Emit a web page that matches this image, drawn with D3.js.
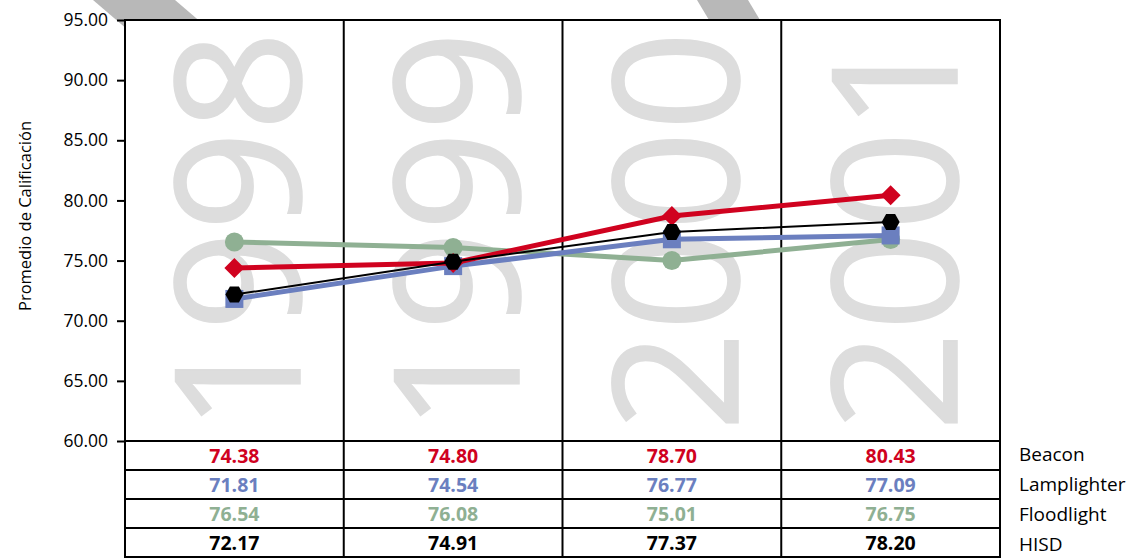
<!DOCTYPE html>
<html><head><meta charset="utf-8">
<script src="https://cdn.jsdelivr.net/npm/d3@7/dist/d3.min.js"></script>
<style>
html,body{margin:0;padding:0;background:#fff;}
svg{display:block;font-family:"Open Sans",sans-serif;}
</style></head>
<body>
<svg id="chart" width="1135" height="558"></svg>
<script>
// ---- data ----
const years = ["1998", "1999", "2000", "2001"];
const seriesNames = ["Beacon", "Lamplighter", "Floodlight", "HISD"];
const beacon = [74.38, 74.80, 78.70, 80.43];
const lamplighter = [71.81, 74.54, 76.77, 77.09];
const floodlight = [76.54, 76.08, 75.01, 76.75];
const hisd = [72.17, 74.91, 77.37, 78.20];
const yTicks = [60, 65, 70, 75, 80, 85, 90, 95];
const yTitle = "Promedio de Calificación";

(function () {
const colors = {Beacon: "#d0021f", Lamplighter: "#6b7fbf", Floodlight: "#8fb093", HISD: "#000000"};
const values = {Beacon: beacon, Lamplighter: lamplighter, Floodlight: floodlight, HISD: hisd};

const svg = d3.select("#chart");
const pLeft = 125, pRight = 1000, pTop = 20, plotBottom = 441, rowH = 29;
const tableBottom = plotBottom + rowH * seriesNames.length;

const x = d3.scaleBand().domain(years).range([pLeft, pRight]);
const y = d3.scaleLinear().domain([60, 95]).range([plotBottom, pTop]);
const rowY = d3.scaleBand().domain(seriesNames).range([plotBottom, tableBottom]);

// decorative gray bands at the top
svg.append("path").attr("d", "M93,0 L175,0 L210,30 L128,30 Z").attr("fill", "#b8b8b8");
svg.append("path").attr("d", "M697,0 L748,0 L760,20 L709,20 Z").attr("fill", "#b8b8b8");

// white plot background
svg.append("rect").attr("x", pLeft).attr("y", pTop).attr("width", pRight - pLeft)
  .attr("height", tableBottom - pTop).attr("fill", "#fff");

// big year watermarks
svg.append("g").selectAll("text").data(years).join("text")
  .attr("transform", d => `translate(${x(d) + x.bandwidth() / 2 + 66},231) rotate(-90)`)
  .attr("text-anchor", "middle")
  .attr("font-size", 175)
  .attr("fill", "#dddddd")
  .attr("stroke", "#dddddd").attr("stroke-width", 1.5)
  .text(d => d);

// y axis
const yAxis = d3.axisLeft(y).tickValues(yTicks).tickFormat(d3.format(".2f")).tickSize(8).tickPadding(9);
const ga = svg.append("g").attr("transform", `translate(${pLeft},0)`).call(yAxis);
ga.select(".domain").remove();
ga.selectAll(".tick line").attr("stroke", "#000").attr("stroke-width", 2);
ga.selectAll(".tick text").attr("font-size", 17.5).attr("fill", "#000")
  .attr("font-family", "Open Sans, sans-serif");

// y title
svg.append("text").attr("transform", `translate(31,216) rotate(-90)`)
  .attr("text-anchor", "middle").attr("font-size", 16.5).attr("fill", "#000").text(yTitle);

// frame: vertical lines through plot and table
const vlines = years.map(d => x(d)).concat([pRight]);
svg.append("g").selectAll("line").data(vlines).join("line")
  .attr("x1", d => d).attr("x2", d => d).attr("y1", pTop - 1).attr("y2", tableBottom)
  .attr("stroke", "#000").attr("stroke-width", 2);
// horizontal lines
const hlines = [pTop, plotBottom].concat(seriesNames.map(s => rowY(s) + rowY.bandwidth()));
svg.append("g").selectAll("line").data(hlines).join("line")
  .attr("x1", pLeft - 1).attr("x2", pRight + 1).attr("y1", d => d).attr("y2", d => d)
  .attr("stroke", "#000").attr("stroke-width", 2);

// series
const cx = d => x(d) + x.bandwidth() / 2;
const line = d3.line().x(d => cx(d.year)).y(d => y(d.v));
const widths = {Beacon: 5, Lamplighter: 5, Floodlight: 5, HISD: 2};
const drawOrder = ["Floodlight", "Lamplighter", "Beacon", "HISD"];

function markerPath(name) {
  if (name === "Beacon") { const r = 10; return `M0,${-r}L${r},0L0,${r}L${-r},0Z`; }
  if (name === "Lamplighter") { const r = 9; return `M${-r},${-r}H${r}V${r}H${-r}Z`; }
  if (name === "Floodlight") { return d3.symbol(d3.symbolCircle, Math.PI * 9.5 * 9.5)(); }
  const rx = 9, ry = 8;
  return `M${-rx},0L${-rx / 2},${-ry}L${rx / 2},${-ry}L${rx},0L${rx / 2},${ry}L${-rx / 2},${ry}Z`;
}

drawOrder.forEach(name => {
  const pts = years.map((yr, i) => ({year: yr, v: values[name][i]}));
  const g = svg.append("g");
  g.append("path").datum(pts).attr("d", line).attr("fill", "none")
    .attr("stroke", colors[name]).attr("stroke-width", widths[name]).attr("stroke-linejoin", "round");
  g.selectAll("path.m").data(pts).join("path").attr("class", "m")
    .attr("transform", d => `translate(${cx(d.year)},${y(d.v)})`)
    .attr("d", markerPath(name)).attr("fill", colors[name]);
});

// table values
seriesNames.forEach(name => {
  svg.append("g").selectAll("text").data(years.map((yr, i) => ({year: yr, v: values[name][i]}))).join("text")
    .attr("x", d => cx(d.year))
    .attr("y", rowY(name) + rowY.bandwidth() / 2 + 7)
    .attr("text-anchor", "middle").attr("font-size", 19.5).attr("font-weight", "bold")
    .attr("fill", colors[name]).text(d => d3.format(".2f")(d.v));
});

// legend labels
svg.append("g").selectAll("text").data(seriesNames).join("text")
  .attr("x", 1019).attr("y", (d, i) => 461 + i * 30)
  .attr("font-size", 19).attr("fill", "#000").text(d => d);
})();
</script>
</body></html>
